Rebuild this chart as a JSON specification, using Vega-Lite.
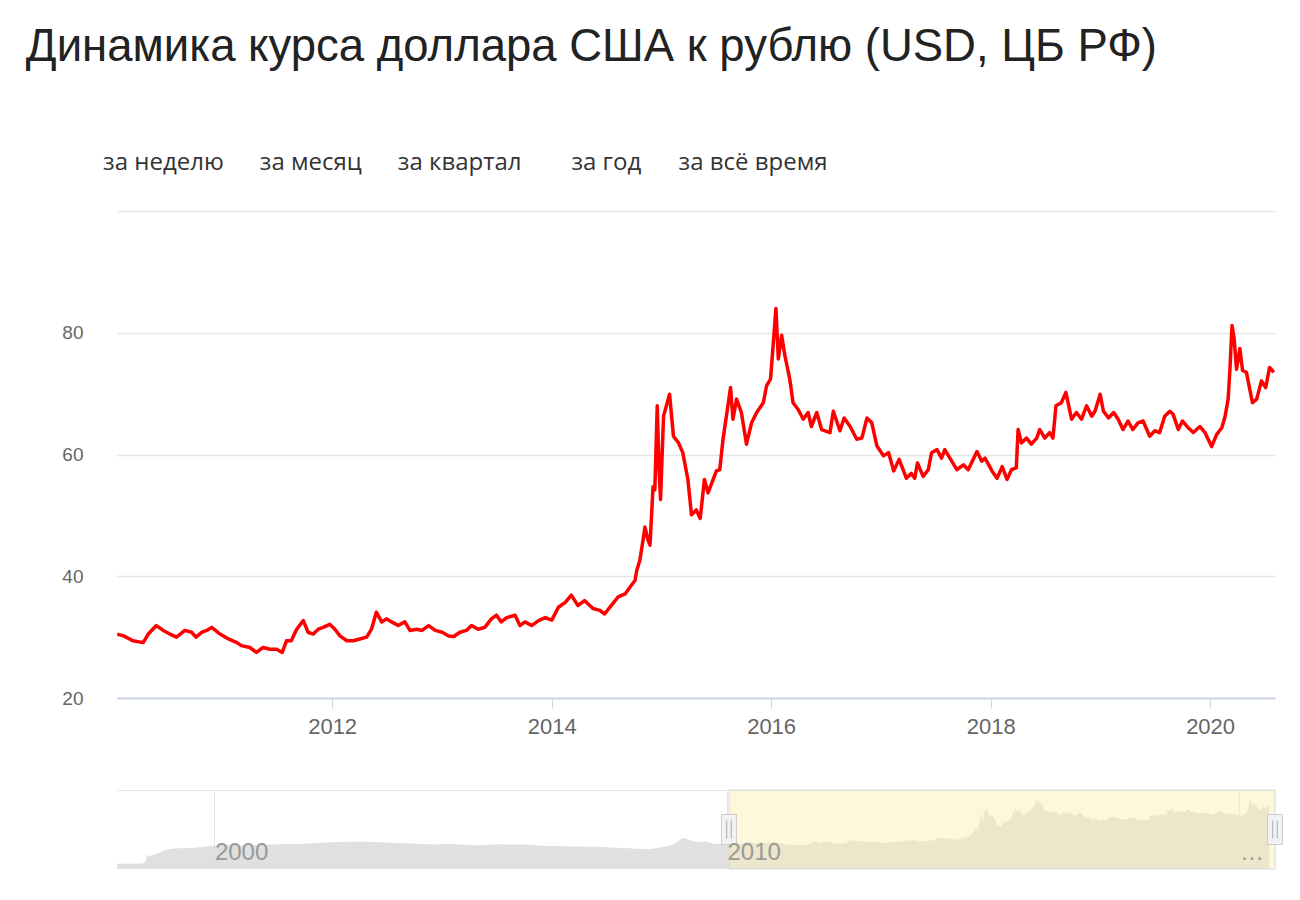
{
  "$schema": "https://vega.github.io/schema/vega-lite/v6.json",
  "background": "white",
  "padding": {"left": 25, "top": 24, "right": 20, "bottom": 10},
  "config": {"font": "Liberation Sans", "view": {"stroke": null}},
  "title": {
    "text": "Динамика курса доллара США к рублю (USD, ЦБ РФ)",
    "subtitle": "\u200b\u00a0\u00a0\u00a0\u00a0\u00a0\u00a0\u00a0\u00a0\u00a0\u00a0\u00a0\u00a0\u200aза неделю\u00a0\u00a0\u00a0\u00a0\u00a0\u200a\u200aза месяц\u00a0\u00a0\u00a0\u00a0\u00a0\u200a\u200aза квартал\u00a0\u00a0\u00a0\u00a0\u00a0\u00a0\u00a0\u00a0за год\u00a0\u00a0\u00a0\u00a0\u00a0\u00a0за всё время",
    "anchor": "start",
    "frame": "bounds",
    "dx": -36,
    "fontSize": 45.5,
    "fontWeight": "normal",
    "color": "#222222",
    "subtitleFont": "Open Sans",
    "subtitleFontSize": 24,
    "subtitleColor": "#333333",
    "subtitlePadding": 81,
    "offset": 36
  },
  "datasets": {
    "usd": [
      {"date": "2010-01-16", "usd": 30.5}, {"date": "2010-02-06", "usd": 30.2}, {"date": "2010-03-09", "usd": 29.4}, {"date": "2010-04-12", "usd": 29.1}, {"date": "2010-04-29", "usd": 30.5}, {"date": "2010-05-26", "usd": 31.9}, {"date": "2010-06-18", "usd": 31.1}, {"date": "2010-07-10", "usd": 30.5}, {"date": "2010-08-01", "usd": 30.0}, {"date": "2010-08-29", "usd": 31.1}, {"date": "2010-09-20", "usd": 30.8}, {"date": "2010-10-05", "usd": 30.0}, {"date": "2010-10-24", "usd": 30.8}, {"date": "2010-11-10", "usd": 31.1}, {"date": "2010-11-26", "usd": 31.6}, {"date": "2010-12-24", "usd": 30.5},
      {"date": "2011-01-21", "usd": 29.7}, {"date": "2011-02-18", "usd": 29.1}, {"date": "2011-03-05", "usd": 28.6}, {"date": "2011-04-02", "usd": 28.3}, {"date": "2011-04-24", "usd": 27.5}, {"date": "2011-05-16", "usd": 28.3}, {"date": "2011-06-08", "usd": 28.0}, {"date": "2011-06-30", "usd": 28.0}, {"date": "2011-07-19", "usd": 27.5}, {"date": "2011-08-02", "usd": 29.4}, {"date": "2011-08-18", "usd": 29.4}, {"date": "2011-09-05", "usd": 31.3}, {"date": "2011-09-27", "usd": 32.7}, {"date": "2011-10-13", "usd": 30.8}, {"date": "2011-10-30", "usd": 30.5}, {"date": "2011-11-16", "usd": 31.3}, {"date": "2011-12-02", "usd": 31.6}, {"date": "2011-12-24", "usd": 32.1},
      {"date": "2012-01-10", "usd": 31.3}, {"date": "2012-01-27", "usd": 30.2}, {"date": "2012-02-19", "usd": 29.4}, {"date": "2012-03-11", "usd": 29.4}, {"date": "2012-04-02", "usd": 29.7}, {"date": "2012-04-25", "usd": 30.0}, {"date": "2012-05-11", "usd": 31.3}, {"date": "2012-05-27", "usd": 34.1}, {"date": "2012-06-14", "usd": 32.5}, {"date": "2012-06-30", "usd": 33.0}, {"date": "2012-07-17", "usd": 32.5}, {"date": "2012-08-08", "usd": 31.9}, {"date": "2012-08-30", "usd": 32.5}, {"date": "2012-09-16", "usd": 31.1}, {"date": "2012-10-09", "usd": 31.3}, {"date": "2012-10-26", "usd": 31.1}, {"date": "2012-11-17", "usd": 31.9}, {"date": "2012-12-09", "usd": 31.1},
      {"date": "2013-01-01", "usd": 30.8}, {"date": "2013-01-23", "usd": 30.2}, {"date": "2013-02-09", "usd": 30.1}, {"date": "2013-03-01", "usd": 30.8}, {"date": "2013-03-23", "usd": 31.1}, {"date": "2013-04-09", "usd": 31.9}, {"date": "2013-05-01", "usd": 31.3}, {"date": "2013-05-23", "usd": 31.6}, {"date": "2013-06-14", "usd": 33.0}, {"date": "2013-07-01", "usd": 33.6}, {"date": "2013-07-17", "usd": 32.5}, {"date": "2013-08-04", "usd": 33.2}, {"date": "2013-09-01", "usd": 33.6}, {"date": "2013-09-17", "usd": 31.9}, {"date": "2013-10-04", "usd": 32.5}, {"date": "2013-10-26", "usd": 31.9}, {"date": "2013-11-18", "usd": 32.7}, {"date": "2013-12-10", "usd": 33.2},
      {"date": "2014-01-01", "usd": 32.8}, {"date": "2014-01-23", "usd": 34.9}, {"date": "2014-02-15", "usd": 35.7}, {"date": "2014-03-07", "usd": 36.9}, {"date": "2014-03-29", "usd": 35.2}, {"date": "2014-04-20", "usd": 36.0}, {"date": "2014-05-18", "usd": 34.7}, {"date": "2014-06-10", "usd": 34.4}, {"date": "2014-06-26", "usd": 33.8}, {"date": "2014-07-13", "usd": 34.9}, {"date": "2014-08-10", "usd": 36.6}, {"date": "2014-09-02", "usd": 37.1}, {"date": "2014-09-18", "usd": 38.2}, {"date": "2014-10-05", "usd": 39.3}, {"date": "2014-10-11", "usd": 41.0}, {"date": "2014-10-21", "usd": 42.6}, {"date": "2014-11-01", "usd": 46.0}, {"date": "2014-11-07", "usd": 48.1}, {"date": "2014-11-17", "usd": 46.0}, {"date": "2014-11-24", "usd": 45.1}, {"date": "2014-12-04", "usd": 54.7}, {"date": "2014-12-10", "usd": 54.2}, {"date": "2014-12-18", "usd": 68.0}, {"date": "2014-12-24", "usd": 57.5}, {"date": "2014-12-29", "usd": 52.6},
      {"date": "2015-01-08", "usd": 66.3}, {"date": "2015-01-28", "usd": 69.9}, {"date": "2015-02-10", "usd": 63.0}, {"date": "2015-02-27", "usd": 61.9}, {"date": "2015-03-13", "usd": 60.3}, {"date": "2015-03-30", "usd": 55.9}, {"date": "2015-04-11", "usd": 50.1}, {"date": "2015-04-27", "usd": 50.9}, {"date": "2015-05-10", "usd": 49.5}, {"date": "2015-05-24", "usd": 55.9}, {"date": "2015-06-05", "usd": 53.7}, {"date": "2015-07-03", "usd": 57.3}, {"date": "2015-07-14", "usd": 57.5}, {"date": "2015-07-25", "usd": 62.5}, {"date": "2015-08-19", "usd": 71.0}, {"date": "2015-08-27", "usd": 65.8}, {"date": "2015-09-08", "usd": 69.1}, {"date": "2015-09-24", "usd": 66.9}, {"date": "2015-10-11", "usd": 61.7}, {"date": "2015-10-28", "usd": 65.2}, {"date": "2015-11-14", "usd": 66.9}, {"date": "2015-12-06", "usd": 68.5}, {"date": "2015-12-17", "usd": 71.3}, {"date": "2015-12-30", "usd": 72.4},
      {"date": "2016-01-06", "usd": 76.8}, {"date": "2016-01-17", "usd": 84.0}, {"date": "2016-01-25", "usd": 75.7}, {"date": "2016-02-05", "usd": 79.6}, {"date": "2016-02-16", "usd": 76.2}, {"date": "2016-03-03", "usd": 72.4}, {"date": "2016-03-14", "usd": 68.5}, {"date": "2016-03-31", "usd": 67.4}, {"date": "2016-04-17", "usd": 65.8}, {"date": "2016-05-03", "usd": 66.9}, {"date": "2016-05-14", "usd": 64.6}, {"date": "2016-06-01", "usd": 66.9}, {"date": "2016-06-17", "usd": 64.1}, {"date": "2016-07-15", "usd": 63.6}, {"date": "2016-07-26", "usd": 67.1}, {"date": "2016-08-17", "usd": 63.9}, {"date": "2016-08-31", "usd": 66.0}, {"date": "2016-09-20", "usd": 64.6}, {"date": "2016-10-12", "usd": 62.5}, {"date": "2016-10-29", "usd": 62.7}, {"date": "2016-11-15", "usd": 66.0}, {"date": "2016-12-01", "usd": 65.2}, {"date": "2016-12-18", "usd": 61.4},
      {"date": "2017-01-09", "usd": 59.8}, {"date": "2017-01-26", "usd": 60.3}, {"date": "2017-02-12", "usd": 57.3}, {"date": "2017-03-02", "usd": 59.2}, {"date": "2017-03-26", "usd": 56.1}, {"date": "2017-04-12", "usd": 56.9}, {"date": "2017-04-23", "usd": 56.1}, {"date": "2017-05-02", "usd": 58.6}, {"date": "2017-05-21", "usd": 56.4}, {"date": "2017-06-07", "usd": 57.5}, {"date": "2017-06-18", "usd": 60.3}, {"date": "2017-07-06", "usd": 60.8}, {"date": "2017-07-21", "usd": 59.4}, {"date": "2017-08-01", "usd": 60.8}, {"date": "2017-08-24", "usd": 58.9}, {"date": "2017-09-10", "usd": 57.5}, {"date": "2017-10-02", "usd": 58.3}, {"date": "2017-10-18", "usd": 57.5}, {"date": "2017-11-16", "usd": 60.5}, {"date": "2017-12-02", "usd": 58.9}, {"date": "2017-12-13", "usd": 59.4},
      {"date": "2018-01-05", "usd": 57.3}, {"date": "2018-01-22", "usd": 56.1}, {"date": "2018-02-08", "usd": 58.0}, {"date": "2018-02-24", "usd": 55.9}, {"date": "2018-03-11", "usd": 57.5}, {"date": "2018-03-27", "usd": 57.8}, {"date": "2018-04-02", "usd": 64.1}, {"date": "2018-04-13", "usd": 61.9}, {"date": "2018-04-30", "usd": 62.7}, {"date": "2018-05-16", "usd": 61.7}, {"date": "2018-06-03", "usd": 62.7}, {"date": "2018-06-13", "usd": 64.1}, {"date": "2018-06-30", "usd": 62.7}, {"date": "2018-07-16", "usd": 63.6}, {"date": "2018-07-27", "usd": 62.7}, {"date": "2018-08-06", "usd": 68.0}, {"date": "2018-08-24", "usd": 68.5}, {"date": "2018-09-08", "usd": 70.2}, {"date": "2018-09-27", "usd": 65.8}, {"date": "2018-10-13", "usd": 66.9}, {"date": "2018-10-30", "usd": 65.8}, {"date": "2018-11-16", "usd": 68.0}, {"date": "2018-12-03", "usd": 66.3}, {"date": "2018-12-14", "usd": 67.1}, {"date": "2018-12-31", "usd": 69.9},
      {"date": "2019-01-11", "usd": 67.1}, {"date": "2019-01-28", "usd": 66.0}, {"date": "2019-02-14", "usd": 66.9}, {"date": "2019-03-01", "usd": 65.8}, {"date": "2019-03-17", "usd": 64.1}, {"date": "2019-04-03", "usd": 65.5}, {"date": "2019-04-19", "usd": 64.1}, {"date": "2019-05-06", "usd": 65.2}, {"date": "2019-05-23", "usd": 65.5}, {"date": "2019-06-14", "usd": 63.0}, {"date": "2019-07-01", "usd": 63.9}, {"date": "2019-07-17", "usd": 63.6}, {"date": "2019-08-03", "usd": 66.3}, {"date": "2019-08-20", "usd": 67.1}, {"date": "2019-08-31", "usd": 66.6}, {"date": "2019-09-17", "usd": 64.1}, {"date": "2019-10-01", "usd": 65.5}, {"date": "2019-10-20", "usd": 64.4}, {"date": "2019-11-06", "usd": 63.6}, {"date": "2019-11-28", "usd": 64.6}, {"date": "2019-12-15", "usd": 63.6},
      {"date": "2020-01-06", "usd": 61.3}, {"date": "2020-01-23", "usd": 63.3}, {"date": "2020-02-09", "usd": 64.4}, {"date": "2020-02-20", "usd": 66.3}, {"date": "2020-03-01", "usd": 69.1}, {"date": "2020-03-07", "usd": 74.0}, {"date": "2020-03-14", "usd": 81.2}, {"date": "2020-03-21", "usd": 79.0}, {"date": "2020-03-29", "usd": 74.0}, {"date": "2020-04-09", "usd": 77.4}, {"date": "2020-04-18", "usd": 73.8}, {"date": "2020-05-01", "usd": 73.5}, {"date": "2020-05-12", "usd": 70.7}, {"date": "2020-05-21", "usd": 68.5}, {"date": "2020-06-04", "usd": 69.1}, {"date": "2020-06-20", "usd": 72.1}, {"date": "2020-07-04", "usd": 71.0}, {"date": "2020-07-17", "usd": 74.3}, {"date": "2020-07-31", "usd": 73.5}
    ],
    "history": [
      {"date": "1998-02-06", "usd": 6.0}, {"date": "1998-05-01", "usd": 6.1}, {"date": "1998-08-01", "usd": 6.3}, {"date": "1998-08-25", "usd": 7.9}, {"date": "1998-09-10", "usd": 16.0}, {"date": "1998-09-20", "usd": 15.0}, {"date": "1998-10-15", "usd": 16.0}, {"date": "1998-12-01", "usd": 18.5},
      {"date": "1999-01-15", "usd": 22.5}, {"date": "1999-04-01", "usd": 24.3}, {"date": "1999-07-01", "usd": 24.3}, {"date": "1999-10-01", "usd": 25.5},
      {"date": "2000-01-01", "usd": 27.0}, {"date": "2000-04-01", "usd": 28.5}, {"date": "2000-07-01", "usd": 27.8}, {"date": "2000-10-01", "usd": 27.8},
      {"date": "2001-01-01", "usd": 28.2}, {"date": "2001-04-01", "usd": 28.9}, {"date": "2001-07-01", "usd": 29.2}, {"date": "2001-10-01", "usd": 29.5},
      {"date": "2002-01-01", "usd": 30.3}, {"date": "2002-04-01", "usd": 31.2}, {"date": "2002-07-01", "usd": 31.5}, {"date": "2002-10-01", "usd": 31.7},
      {"date": "2003-01-01", "usd": 31.8}, {"date": "2003-04-01", "usd": 31.2}, {"date": "2003-07-01", "usd": 30.3}, {"date": "2003-10-01", "usd": 30.0},
      {"date": "2004-01-01", "usd": 29.3}, {"date": "2004-04-01", "usd": 28.5}, {"date": "2004-07-01", "usd": 29.0}, {"date": "2004-10-01", "usd": 28.9},
      {"date": "2005-01-01", "usd": 27.8}, {"date": "2005-04-01", "usd": 27.8}, {"date": "2005-07-01", "usd": 28.7}, {"date": "2005-10-01", "usd": 28.5},
      {"date": "2006-01-01", "usd": 28.7}, {"date": "2006-04-01", "usd": 27.7}, {"date": "2006-07-01", "usd": 26.9}, {"date": "2006-10-01", "usd": 26.7},
      {"date": "2007-01-01", "usd": 26.3}, {"date": "2007-04-01", "usd": 26.0}, {"date": "2007-07-01", "usd": 25.8}, {"date": "2007-10-01", "usd": 24.9},
      {"date": "2008-01-01", "usd": 24.5}, {"date": "2008-04-01", "usd": 23.5}, {"date": "2008-07-01", "usd": 23.4}, {"date": "2008-09-01", "usd": 24.8}, {"date": "2008-10-15", "usd": 26.2}, {"date": "2008-12-01", "usd": 27.8},
      {"date": "2009-01-15", "usd": 32.0}, {"date": "2009-02-19", "usd": 36.4}, {"date": "2009-04-01", "usd": 34.0}, {"date": "2009-05-15", "usd": 32.0}, {"date": "2009-07-01", "usd": 31.5}, {"date": "2009-08-01", "usd": 31.6}, {"date": "2009-10-01", "usd": 29.5}, {"date": "2009-12-01", "usd": 29.5}, {"date": "2010-01-16", "usd": 30.5}
    ],
    "selection": [{"start": "2010-01-15", "end": "2020-09-10"}],
    "handles": [{"date": "2010-01-15"}, {"date": "2020-09-10"}]
  },
  "spacing": 52,
  "vconcat": [
    {
      "width": 1158,
      "height": 487,
      "data": {"name": "usd"},
      "mark": {"type": "line", "color": "#ff0000", "strokeWidth": 3.5, "strokeJoin": "round"},
      "encoding": {
        "x": {
          "field": "date", "type": "temporal",
          "scale": {"domain": ["2010-01-15", "2020-08-04"]},
          "axis": {
            "values": [{"year": 2012, "month": 1, "date": 1}, {"year": 2014, "month": 1, "date": 1}, {"year": 2016, "month": 1, "date": 1}, {"year": 2018, "month": 1, "date": 1}, {"year": 2020, "month": 1, "date": 1}],
            "format": "%Y", "title": null, "grid": false,
            "domainColor": "#ccd6eb", "domainWidth": 2,
            "tickColor": "#ccd6eb", "tickSize": 10, "tickWidth": 1,
            "labelFontSize": 22, "labelColor": "#666666", "labelPadding": 8
          }
        },
        "y": {
          "field": "usd", "type": "quantitative",
          "scale": {"domain": [20, 100], "nice": false, "zero": false},
          "axis": {
            "values": [20, 40, 60, 80, 100],
            "labelExpr": "datum.value == 100 ? '' : datum.label",
            "title": null, "domain": false, "ticks": false,
            "gridColor": "#e6e6e6", "gridWidth": 1.5,
            "labelFontSize": 19, "labelColor": "#666666", "labelPadding": 34
          }
        }
      }
    },
    {
      "width": 1158,
      "height": 79,
      "layer": [
        {
          "data": {"name": "history"},
          "mark": {"type": "area", "color": "#e0e0e0"},
          "encoding": {
            "x": {
              "field": "date", "type": "temporal",
              "scale": {"domain": ["1998-02-06", "2020-09-10"]},
              "axis": {"orient": "top", "values": [{"year": 2000, "month": 1, "date": 1}, {"year": 2010, "month": 1, "date": 1}, {"year": 2020, "month": 1, "date": 1}], "grid": true, "gridColor": "#e6e6e6", "labels": false, "ticks": false, "domain": true, "domainColor": "#e6e6e6", "title": null}
            },
            "y": {"field": "usd", "type": "quantitative", "scale": {"domain": [0, 92], "nice": false}, "axis": null}
          }
        },
        {
          "data": {"name": "usd"},
          "mark": {"type": "area", "color": "#e0e0e0"},
          "encoding": {
            "x": {"field": "date", "type": "temporal", "scale": {"domain": ["1998-02-06", "2020-09-10"]}, "axis": null},
            "y": {"field": "usd", "type": "quantitative", "scale": {"domain": [0, 92], "nice": false}, "axis": null}
          }
        },
        {
          "data": {"name": "selection"},
          "mark": {"type": "rect", "fill": "#fbeeb0", "fillOpacity": 0.45, "stroke": "#d9d9d9", "strokeWidth": 1},
          "encoding": {
            "x": {
              "field": "start", "type": "temporal",
              "axis": {
                "orient": "bottom",
                "values": [{"year": 2000, "month": 1, "date": 1}, {"year": 2010, "month": 1, "date": 1}, {"year": 2020, "month": 1, "date": 1}],
                "format": "%Y",
                "labelExpr": "year(datum.value) == 2020 ? '…' : datum.label",
                "grid": false, "ticks": false, "tickSize": 0, "domain": false,
                "labelAlign": "left", "labelDx": 7, "labelPadding": -10, "labelBaseline": "alphabetic",
                "labelFontSize": 24, "labelColor": "#999999", "zindex": 1, "title": null
              }
            },
            "x2": {"field": "end"}
          }
        },
        {
          "data": {"name": "handles"},
          "mark": {"type": "point", "shape": "M-0.5,-1H0.5V1H-0.5Z", "size": 900, "filled": true, "fill": "#f2f2f2", "stroke": "#cccccc", "strokeWidth": 1, "opacity": 1},
          "encoding": {"x": {"field": "date", "type": "temporal", "axis": null}}
        },
        {
          "data": {"name": "handles"},
          "mark": {"type": "point", "shape": "M-0.15,-0.6V0.6M0.15,-0.6V0.6", "size": 900, "filled": false, "stroke": "#aaaaaa", "strokeWidth": 1, "opacity": 1},
          "encoding": {"x": {"field": "date", "type": "temporal", "axis": null}}
        }
      ],
      "resolve": {"axis": {"x": "independent"}}
    }
  ]
}
